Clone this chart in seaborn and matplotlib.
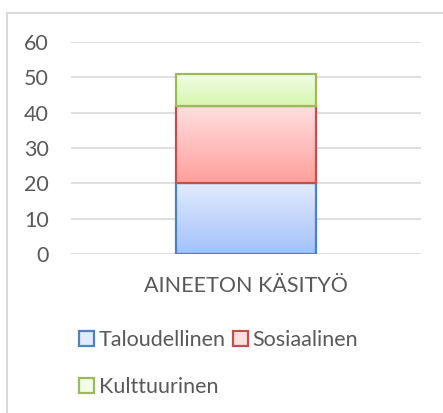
import numpy as np
import pandas as pd
import matplotlib
matplotlib.use("Agg")
import matplotlib.pyplot as plt
import matplotlib.patches as mpatches
from matplotlib.colors import LinearSegmentedColormap
import seaborn as sns

categories = ["AINEETON KÄSITYÖ"]
series = ["Taloudellinen", "Sosiaalinen", "Kulttuurinen"]
values = {
    "Taloudellinen": [20],
    "Sosiaalinen": [22],
    "Kulttuurinen": [9],
}
yticks = [0, 10, 20, 30, 40, 50, 60]

edge_colors = {"Taloudellinen": "#4f81bd", "Sosiaalinen": "#c0504d", "Kulttuurinen": "#9bbb59"}
grad_colors = {
    "Taloudellinen": ("#e1ebfd", "#a3c1fa"),
    "Sosiaalinen": ("#ffe0e0", "#ff9f9c"),
    "Kulttuurinen": ("#f1fde4", "#d6f6ad"),
}

sns.set_theme(style="white")
plt.rcParams["font.family"] = ["Lato", "DejaVu Sans"]
text_color = "#595959"
fs = 15.5

fig = plt.figure(figsize=(4.43, 4.13), dpi=100)
ax = fig.add_axes([71 / 443, 1 - 254 / 413, (421 - 71) / 443, (254 - 42) / 413])

bottom = np.zeros(len(categories))
z = 2
for s in series:
    df = pd.DataFrame({"cat": categories, "val": values[s]})
    before = len(ax.patches)
    sns.barplot(data=df, x="cat", y="val", ax=ax, width=0.4, bottom=bottom,
                facecolor="none", edgecolor=edge_colors[s], linewidth=1.6, zorder=z + 1)
    for p in ax.patches[before:]:
        x0, y0 = p.get_x(), p.get_y()
        w, h = p.get_width(), p.get_height()
        cmap = LinearSegmentedColormap.from_list("g", [grad_colors[s][1], grad_colors[s][0]])
        grad = np.linspace(0, 1, 256).reshape(-1, 1)
        ax.imshow(grad, extent=(x0, x0 + w, y0, y0 + h), origin="lower", aspect="auto",
                  cmap=cmap, zorder=z, interpolation="bilinear")
    bottom = bottom + np.array(values[s])
    z += 2

ax.set_xlim(-0.5, 0.5)
ax.set_ylim(0, 60)
ax.set_yticks(yticks)
ax.set_yticklabels([str(t) for t in yticks])
ax.yaxis.grid(True, color="#d9d9d9", linewidth=1.2, zorder=0)
ax.set_axisbelow(True)
for sp in ax.spines.values():
    sp.set_visible(False)
ax.set_xlabel("")
ax.set_ylabel("")
ax.tick_params(axis="both", length=0, labelsize=fs, colors=text_color)
ax.tick_params(axis="y", pad=16)
ax.tick_params(axis="x", pad=16)

handles = [mpatches.Patch(facecolor=grad_colors[s][0], edgecolor=edge_colors[s], linewidth=1.6)
           for s in series]
order = [0, 2, 1]
fig.legend([handles[i] for i in order], [series[i] for i in order],
           loc="upper left", bbox_to_anchor=(60 / 443, 1 - 311 / 413), ncol=2,
           frameon=False, fontsize=fs, labelcolor=text_color,
           handlelength=0.7, handleheight=0.7, handletextpad=0.2,
           columnspacing=0.35, labelspacing=1.25)

border = mpatches.Rectangle((6.5 / 443, -0.1), 1.2, 1 - 13 / 413 + 0.1,
                            transform=fig.transFigure, fill=False,
                            edgecolor="#d9d9d9", linewidth=1.5)
fig.patches.append(border)

fig.savefig("out.png", dpi=100)
